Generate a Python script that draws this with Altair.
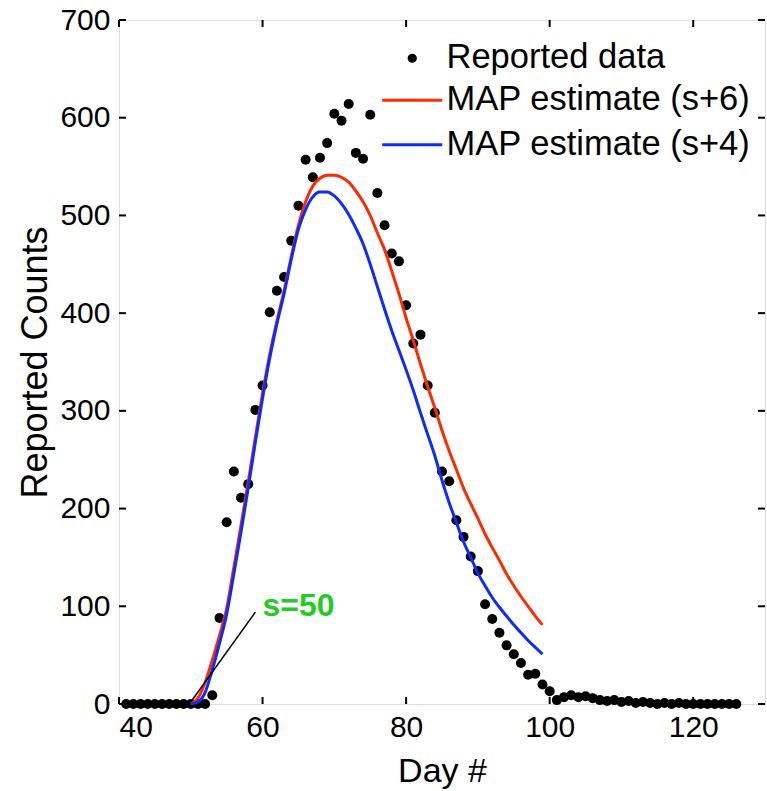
import altair as alt
import pandas as pd

# ---- data ----
days = list(range(41, 127))
reported = [0, 0, 0, 0, 0, 0, 0, 0, 0, 0, 0, 0,          # 41-52
            9, 88, 186, 238, 211, 225, 301, 326, 401, 423,  # 53-62
            437, 474, 510, 557, 539, 559, 574, 604, 597, 614,  # 63-72
            564, 558, 603, 523, 490, 461, 453, 408, 369, 378,  # 73-82
            326, 298, 238, 228, 188, 171, 151, 136, 102, 87,   # 83-92
            73, 60, 51, 42, 30, 31, 20, 13, 4, 7,              # 93-102
            9, 7, 8, 6, 4, 3, 4, 2, 3, 1,                      # 103-112
            2, 1, 0, 1, 0, 1, 0, 0, 0, 0, 0, 0, 0, 0]          # 113-126

fit_days = list(range(50, 100))
map_s6 = [0, 6, 22, 45, 70, 98, 140, 183, 227, 273,
          318, 358, 392, 423, 458, 490, 514, 530, 538, 541,
          541, 539, 534, 525, 514, 500, 482, 465, 443, 420,
          395, 372, 348, 325, 303, 280, 259, 240, 221, 205,
          190, 174, 160, 147, 133, 121, 110, 100, 90, 81]
map_s4 = [0, 2, 12, 35, 62, 92, 133, 176, 221, 268,
          313, 354, 389, 420, 455, 486, 506, 519, 524, 524,
          520, 512, 501, 487, 471, 450, 427, 404, 382, 362,
          342, 321, 298, 276, 254, 229, 206, 186, 166, 150,
          134, 121, 109, 99, 90, 81, 73, 65, 58, 51]

series_names = ["MAP estimate (s+6)", "MAP estimate (s+4)"]
series_colors = ["#ff2a00", "#0b2bff"]

x_ticks = [40, 60, 80, 100, 120]
y_ticks = [0, 100, 200, 300, 400, 500, 600, 700]

annot_label = ["s=50"]
annot_x = [60]
annot_y = [100]
pointer_x = [50, 59]
pointer_y = [2, 94]

FONT = "Liberation Sans"
W, H = 646, 684
TICK = 7

pts = pd.DataFrame({"day": days, "count": reported, "series": "Reported data"})
fits = pd.concat([
    pd.DataFrame({"day": fit_days, "count": map_s6, "series": series_names[0]}),
    pd.DataFrame({"day": fit_days, "count": map_s4, "series": series_names[1]}),
])
annot = pd.DataFrame({"day": annot_x, "count": annot_y, "label": annot_label})
pointer = pd.DataFrame({"day": pointer_x, "count": pointer_y})
xt = pd.DataFrame({"tick": x_ticks})
yt = pd.DataFrame({"tick": y_ticks})

xscale = alt.Scale(domain=[40, 130], nice=False, zero=False)
yscale = alt.Scale(domain=[0, 700], nice=False)

bottom_axis = alt.Axis(orient="bottom", values=x_ticks, ticks=False, tickSize=0,
                       domain=False, grid=False, labelFontSize=30,
                       labelFont=FONT, labelColor="black", labelPadding=8, title="Day #",
                       titleFont=FONT, titleFontSize=34, titleFontWeight="normal",
                       titleColor="black", titlePadding=12, format="d")
left_axis = alt.Axis(orient="left", values=y_ticks, ticks=False, tickSize=0,
                     domain=False, grid=False, labelFontSize=30,
                     labelFont=FONT, labelColor="black", labelPadding=9,
                     title="Reported Counts", titleFont=FONT, titleFontSize=36,
                     titleFontWeight="normal", titleColor="black", titlePadding=5, format="d")

LEG_FONT = 34.5

points = alt.Chart(pts).mark_circle(size=100, opacity=1).encode(
    x=alt.X("day:Q", scale=xscale, axis=bottom_axis),
    y=alt.Y("count:Q", scale=yscale, axis=left_axis),
    color=alt.Color("series:N",
                    scale=alt.Scale(domain=["Reported data"], range=["black"]),
                    legend=alt.Legend(orient="none", legendX=276, legendY=21, title=None,
                                      labelFontSize=LEG_FONT, labelFont=FONT,
                                      labelColor="black", symbolSize=85,
                                      symbolType="circle", labelOffset=17,
                                      padding=0, labelLimit=600)),
)

lines = alt.Chart(fits).mark_line(strokeWidth=3, interpolate="monotone").encode(
    x=alt.X("day:Q", scale=xscale, axis=None),
    y=alt.Y("count:Q", scale=yscale, axis=None),
    color=alt.Color("series:N",
                    scale=alt.Scale(domain=series_names, range=series_colors),
                    sort=series_names,
                    legend=alt.Legend(orient="none", legendX=276, legendY=63, title=None,
                                      labelFontSize=LEG_FONT, labelFont=FONT,
                                      labelColor="black", symbolType="M-3,0H3",
                                      symbolSize=400, symbolStrokeWidth=3, labelOffset=17,
                                      rowPadding=9.5, padding=0, labelLimit=600)),
)

# inward tick marks on all four sides (Matlab box style)
tick_bottom = alt.Chart(xt).mark_rule(color="black", strokeWidth=2).encode(
    x=alt.X("tick:Q", scale=xscale, axis=None), y=alt.value(H), y2=alt.value(H - TICK))
tick_top = alt.Chart(xt).mark_rule(color="black", strokeWidth=2).encode(
    x=alt.X("tick:Q", scale=xscale, axis=None), y=alt.value(0), y2=alt.value(TICK))
tick_left = alt.Chart(yt).mark_rule(color="black", strokeWidth=2).encode(
    y=alt.Y("tick:Q", scale=yscale, axis=None), x=alt.value(0), x2=alt.value(TICK))
tick_right = alt.Chart(yt).mark_rule(color="black", strokeWidth=2).encode(
    y=alt.Y("tick:Q", scale=yscale, axis=None), x=alt.value(W), x2=alt.value(W - TICK))

pointer_line = alt.Chart(pointer).mark_line(color="black", strokeWidth=1.5).encode(
    x=alt.X("day:Q", scale=xscale, axis=None),
    y=alt.Y("count:Q", scale=yscale, axis=None),
)

label = alt.Chart(annot).mark_text(align="left", baseline="middle", fontSize=32,
                                   fontWeight="bold", font=FONT, color="#22cc22").encode(
    x=alt.X("day:Q", scale=xscale, axis=None),
    y=alt.Y("count:Q", scale=yscale, axis=None),
    text="label:N",
)

chart = alt.layer(points, lines, pointer_line, label,
                  tick_bottom, tick_top, tick_left, tick_right).resolve_scale(
    color="independent"
).resolve_axis(x="independent", y="independent").properties(
    width=W, height=H,
    autosize=alt.AutoSizeParams(type="none"),
    padding={"left": 119, "top": 20, "right": 2, "bottom": 87},
).configure_view(stroke="black", strokeWidth=2).configure(background="white")

chart.save("out.html", embed_options={"renderer": "svg", "actions": False})
